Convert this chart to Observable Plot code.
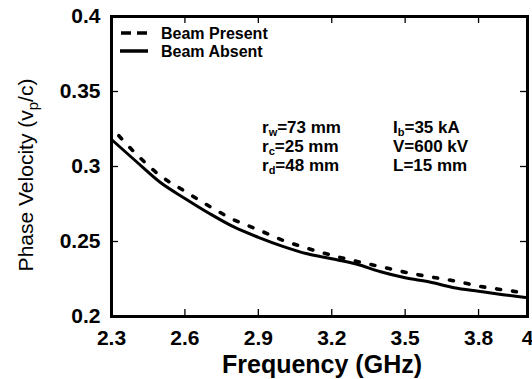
<!DOCTYPE html>
<html>
<head>
<meta charset="utf-8">
<script src="https://cdn.jsdelivr.net/npm/d3@7"></script>
<script src="https://cdn.jsdelivr.net/npm/@observablehq/plot@0.6"></script>
<style>
  html, body { margin: 0; padding: 0; background: #fff; }
  #chart svg { display: block; }
</style>
</head>
<body>
<div id="chart"></div>
<script>
// Frequency (GHz) samples
const freqAbsent = [2.3, 2.4, 2.5, 2.6, 2.7, 2.8, 2.9, 3.0, 3.1, 3.2, 3.3, 3.4, 3.5, 3.6, 3.7, 3.8, 3.9, 4.0];
const vpAbsent   = [0.318, 0.3035, 0.2893, 0.2787, 0.2687, 0.2597, 0.2528, 0.2468, 0.2418, 0.2385, 0.235, 0.2298, 0.2258, 0.223, 0.2192, 0.2168, 0.2145, 0.2125];
const freqPresent = [2.33, 2.4, 2.5, 2.6, 2.7, 2.8, 2.9, 3.0, 3.1, 3.2, 3.3, 3.4, 3.5, 3.6, 3.7, 3.8, 3.9, 4.0];
const vpPresent   = [0.3205, 0.3085, 0.2938, 0.2835, 0.2735, 0.2645, 0.2578, 0.2508, 0.2455, 0.2408, 0.2368, 0.2332, 0.2295, 0.2265, 0.2238, 0.2203, 0.2178, 0.2155];
const xTicks = [2.3, 2.6, 2.9, 3.2, 3.5, 3.8, 4];
const xTickLabels = ["2.3", "2.6", "2.9", "3.2", "3.5", "3.8", "4"];
const yTicks = [0.2, 0.25, 0.3, 0.35, 0.4];
const yTickLabels = ["0.2", "0.25", "0.3", "0.35", "0.4"];
const seriesNames = ["Beam Present", "Beam Absent"];
const paramsCol1 = [["r", "w", "=73 mm"], ["r", "c", "=25 mm"], ["r", "d", "=48 mm"]];
const paramsCol2 = [["I", "b", "=35 kA"], ["V", "", "=600 kV"], ["L", "", "=15 mm"]];

const absent = freqAbsent.map((f, i) => ({f, v: vpAbsent[i]}));
const present = freqPresent.map((f, i) => ({f, v: vpPresent[i]}));

const W = 532, H = 379;
const mL = 111, mR = 5, mT = 16, mB = 63;
const frameW = W - mL - mR, frameH = H - mT - mB;
const tickLen = 7;
const FONT = "'Liberation Sans', Arial, sans-serif";

const chart = Plot.plot({
  width: W, height: H,
  marginLeft: mL, marginRight: mR, marginTop: mT, marginBottom: mB,
  style: {fontFamily: FONT, background: "#fff", color: "#000"},
  x: {domain: [2.3, 4], axis: null},
  y: {domain: [0.2, 0.4], axis: null},
  marks: [
    // inward ticks on all four sides
    Plot.tickX(xTicks, {x: d => d, insetTop: frameH - tickLen, stroke: "#000", strokeWidth: 1.3}),
    Plot.tickX(xTicks, {x: d => d, insetBottom: frameH - tickLen, stroke: "#000", strokeWidth: 1.3}),
    Plot.tickY(yTicks, {y: d => d, insetRight: frameW - tickLen, stroke: "#000", strokeWidth: 1.3}),
    Plot.tickY(yTicks, {y: d => d, insetLeft: frameW - tickLen, stroke: "#000", strokeWidth: 1.3}),
    Plot.axisX(xTicks, {tickSize: 0, tickPadding: 14, tickFormat: (d, i) => xTickLabels[i], fontSize: 21, fontWeight: "bold", label: null}),
    Plot.axisY(yTicks, {tickSize: 0, tickPadding: 11, tickFormat: (d, i) => yTickLabels[i], fontSize: 21, fontWeight: "bold", label: null}),
    Plot.line(present, {x: "f", y: "v", stroke: "#000", strokeWidth: 3.6, strokeDasharray: "4,12", curve: "monotone-x"}),
    Plot.line(absent, {x: "f", y: "v", stroke: "#000", strokeWidth: 3, curve: "monotone-x"}),
    Plot.frame({stroke: "#000", strokeWidth: 3})
  ]
});

document.getElementById("chart").appendChild(chart);

const svg = d3.select(chart);

// X axis title
svg.append("text")
  .attr("x", mL + frameW / 2 + 3).attr("y", 373)
  .attr("text-anchor", "middle")
  .attr("font-family", FONT).attr("font-size", 25).attr("font-weight", "bold")
  .attr("fill", "#000")
  .text("Frequency (GHz)");

// Y axis title with subscript
const yl = svg.append("text")
  .attr("transform", `translate(33, ${mT + frameH / 2 + 9}) rotate(-90)`)
  .attr("text-anchor", "middle")
  .attr("font-family", FONT).attr("font-size", 21)
  .attr("fill", "#000");
yl.append("tspan").text("Phase Velocity (v");
yl.append("tspan").attr("font-size", 15).attr("dy", 5).text("p");
yl.append("tspan").attr("dy", -5).text("/c)");

// Legend
const lg = svg.append("g").attr("font-family", FONT).attr("font-size", 16).attr("font-weight", "bold").attr("text-anchor", "start");
lg.append("line").attr("x1", 121).attr("x2", 147).attr("y1", 33).attr("y2", 33)
  .attr("stroke", "#000").attr("stroke-width", 3.5).attr("stroke-dasharray", "10,6");
lg.append("line").attr("x1", 120).attr("x2", 148).attr("y1", 51).attr("y2", 51)
  .attr("stroke", "#000").attr("stroke-width", 3.5);
lg.append("text").attr("x", 161).attr("y", 39).attr("text-anchor", "start").text(seriesNames[0]);
lg.append("text").attr("x", 161).attr("y", 57).attr("text-anchor", "start").text(seriesNames[1]);

// Parameter annotations
const ann = svg.append("g").attr("font-family", FONT).attr("font-size", 17).attr("font-weight", "bold").attr("fill", "#000").attr("text-anchor", "start");
function drawCol(rows, x0) {
  rows.forEach((r, i) => {
    const t = ann.append("text").attr("x", x0).attr("y", 133 + i * 19).attr("text-anchor", "start");
    t.append("tspan").text(r[0]);
    if (r[1]) {
      t.append("tspan").attr("font-size", 11).attr("dy", 3).text(r[1]);
      t.append("tspan").attr("dy", -3).text(r[2]);
    } else {
      t.append("tspan").text(r[2]);
    }
  });
}
drawCol(paramsCol1, 262);
drawCol(paramsCol2, 393);
</script>
</body>
</html>
